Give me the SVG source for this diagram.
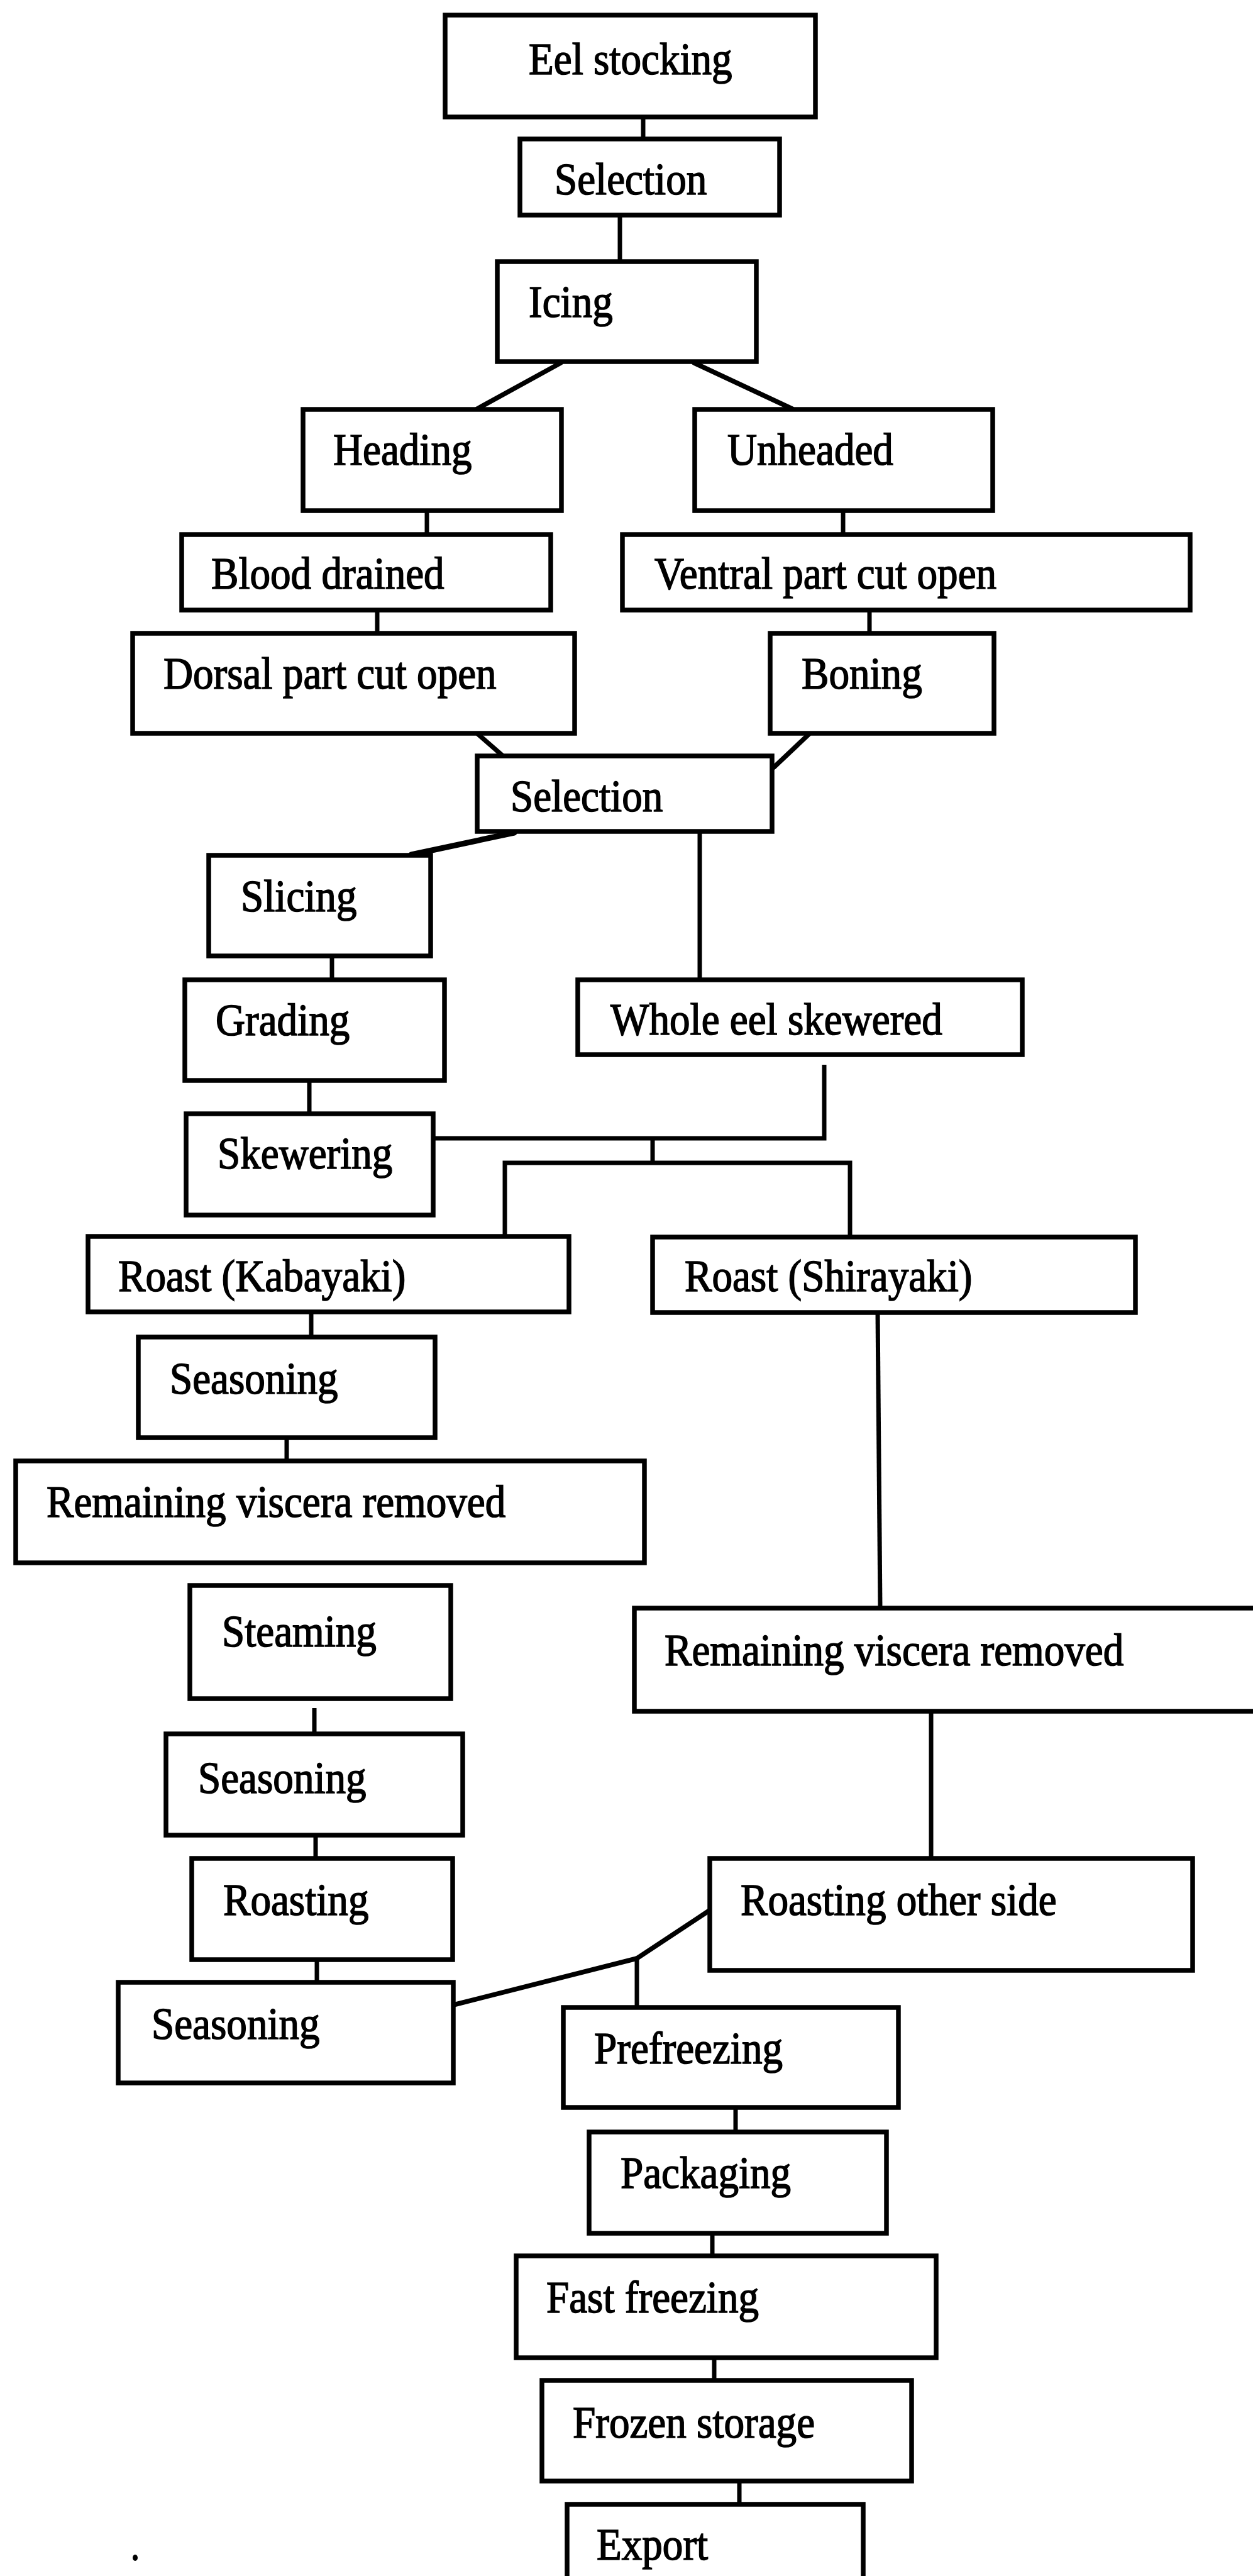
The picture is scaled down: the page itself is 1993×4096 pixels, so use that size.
<svg xmlns="http://www.w3.org/2000/svg" width="1993" height="4096" viewBox="0 0 1993 4096">
  <style>
    .box { fill: #ffffff; stroke: #000000; stroke-width: 7.5; }
    .lbl { font-family: "Liberation Serif", "Times New Roman", serif; font-size: 71px; fill: #000000; stroke: #000000; stroke-width: 1.6; }
    .link { fill: none; stroke: #000000; stroke-width: 7; stroke-linecap: butt; stroke-linejoin: miter; }
    .slant { fill: none; stroke: #000000; stroke-width: 7.5; stroke-linecap: round; }
  </style>
  <rect x="0" y="0" width="1993" height="4096" fill="#ffffff"/>

  <!-- connectors -->
  <g id="connectors">
    <line class="link" x1="1023" y1="186" x2="1023" y2="222"/>
    <line class="link" x1="986" y1="342" x2="986" y2="417"/>
    <line class="slant" x1="892" y1="577" x2="759" y2="650"/>
    <line class="slant" x1="1104" y1="577" x2="1260" y2="650"/>
    <line class="link" x1="679" y1="812" x2="679" y2="850"/>
    <line class="link" x1="1341" y1="812" x2="1341" y2="850"/>
    <line class="link" x1="600" y1="970" x2="600" y2="1007"/>
    <line class="link" x1="1383" y1="970" x2="1383" y2="1007"/>
    <line class="slant" x1="761" y1="1168" x2="800" y2="1202"/>
    <line class="slant" x1="1286" y1="1168" x2="1231" y2="1220"/>
    <line class="slant" x1="818" y1="1324" x2="654" y2="1359" style="stroke-width:9"/>
    <line class="link" x1="1113" y1="1322" x2="1113" y2="1558"/>
    <line class="link" x1="528" y1="1520" x2="528" y2="1558"/>
    <line class="link" x1="492" y1="1718" x2="492" y2="1771"/>
    <path class="link" d="M1311,1693 V1810 H689"/>
    <line class="link" x1="1038" y1="1810" x2="1038" y2="1849"/>
    <path class="link" d="M803,1966 V1849 H1352 V1967"/>
    <line class="link" x1="495" y1="2086" x2="495" y2="2126"/>
    <line class="link" x1="456" y1="2286" x2="456" y2="2323"/>
    <line class="link" x1="500" y1="2716" x2="500" y2="2757"/>
    <line class="link" x1="502" y1="2918" x2="502" y2="2955"/>
    <line class="link" x1="504" y1="3116" x2="504" y2="3152"/>
    <line class="link" x1="1396" y1="2087" x2="1400" y2="2557"/>
    <line class="link" x1="1481" y1="2721" x2="1481" y2="2955"/>
    <line class="slant" x1="1128" y1="3038" x2="1013" y2="3114"/>
    <line class="slant" x1="1013" y1="3114" x2="721" y2="3188"/>
    <line class="link" x1="1013" y1="3114" x2="1013" y2="3192"/>
    <line class="link" x1="1170" y1="3351" x2="1170" y2="3390"/>
    <line class="link" x1="1133" y1="3551" x2="1133" y2="3587"/>
    <line class="link" x1="1136" y1="3749" x2="1136" y2="3785"/>
    <line class="link" x1="1176" y1="3945" x2="1176" y2="3982"/>
  </g>

  <!-- process steps -->
  <g id="eel-stocking"><rect class="box" x="708" y="24" width="589" height="162"/><text class="lbl" transform="translate(841 118) scale(0.917 1)">Eel stocking</text></g>
  <g id="selection-1"><rect class="box" x="827" y="221" width="413" height="121"/><text class="lbl" transform="translate(882 309) scale(0.917 1)">Selection</text></g>
  <g id="icing"><rect class="box" x="791" y="416" width="412" height="159"/><text class="lbl" transform="translate(841 504) scale(0.917 1)">Icing</text></g>
  <g id="heading"><rect class="box" x="482" y="651" width="411" height="161"/><text class="lbl" transform="translate(530 739) scale(0.917 1)">Heading</text></g>
  <g id="unheaded"><rect class="box" x="1105" y="651" width="474" height="161"/><text class="lbl" transform="translate(1157 739) scale(0.917 1)">Unheaded</text></g>
  <g id="blood-drained"><rect class="box" x="289" y="850" width="587" height="120"/><text class="lbl" transform="translate(336 936) scale(0.917 1)">Blood drained</text></g>
  <g id="ventral-cut"><rect class="box" x="990" y="850" width="903" height="120"/><text class="lbl" transform="translate(1041 936) scale(0.917 1)">Ventral part cut open</text></g>
  <g id="dorsal-cut"><rect class="box" x="211" y="1007" width="703" height="159"/><text class="lbl" transform="translate(260 1095) scale(0.917 1)">Dorsal part cut open</text></g>
  <g id="boning"><rect class="box" x="1225" y="1007" width="356" height="159"/><text class="lbl" transform="translate(1275 1095) scale(0.917 1)">Boning</text></g>
  <g id="selection-2"><rect class="box" x="759" y="1202" width="469" height="120"/><text class="lbl" transform="translate(812 1290) scale(0.917 1)">Selection</text></g>
  <g id="slicing"><rect class="box" x="332" y="1360" width="353" height="160"/><text class="lbl" transform="translate(383 1449) scale(0.917 1)">Slicing</text></g>
  <g id="whole-eel-skewered"><rect class="box" x="919" y="1558" width="707" height="119"/><text class="lbl" transform="translate(971 1645) scale(0.917 1)">Whole eel skewered</text></g>
  <g id="grading"><rect class="box" x="294" y="1558" width="413" height="160"/><text class="lbl" transform="translate(343 1646) scale(0.917 1)">Grading</text></g>
  <g id="skewering"><rect class="box" x="296" y="1771" width="393" height="161"/><text class="lbl" transform="translate(346 1858) scale(0.917 1)">Skewering</text></g>
  <g id="roast-kabayaki"><rect class="box" x="140" y="1966" width="765" height="120"/><text class="lbl" transform="translate(188 2053) scale(0.917 1)">Roast (Kabayaki)</text></g>
  <g id="roast-shirayaki"><rect class="box" x="1038" y="1967" width="768" height="120"/><text class="lbl" transform="translate(1089 2053) scale(0.917 1)">Roast (Shirayaki)</text></g>
  <g id="seasoning-1"><rect class="box" x="220" y="2126" width="472" height="160"/><text class="lbl" transform="translate(270 2216) scale(0.917 1)">Seasoning</text></g>
  <g id="viscera-removed-left"><rect class="box" x="25" y="2323" width="1000" height="162"/><text class="lbl" transform="translate(74 2412) scale(0.917 1)">Remaining viscera removed</text></g>
  <g id="steaming"><rect class="box" x="302" y="2521" width="415" height="180"/><text class="lbl" transform="translate(353 2618) scale(0.917 1)">Steaming</text></g>
  <g id="seasoning-2"><rect class="box" x="264" y="2757" width="472" height="161"/><text class="lbl" transform="translate(315 2851) scale(0.917 1)">Seasoning</text></g>
  <g id="roasting"><rect class="box" x="305" y="2955" width="415" height="161"/><text class="lbl" transform="translate(355 3045) scale(0.917 1)">Roasting</text></g>
  <g id="seasoning-3"><rect class="box" x="188" y="3152" width="533" height="160"/><text class="lbl" transform="translate(241 3242) scale(0.917 1)">Seasoning</text></g>
  <g id="viscera-removed-right"><rect class="box" x="1009" y="2557" width="1010" height="164"/><text class="lbl" transform="translate(1057 2648) scale(0.917 1)">Remaining viscera removed</text></g>
  <g id="roasting-other-side"><rect class="box" x="1129" y="2955" width="768" height="178"/><text class="lbl" transform="translate(1178 3045) scale(0.917 1)">Roasting other side</text></g>
  <g id="prefreezing"><rect class="box" x="896" y="3192" width="533" height="159"/><text class="lbl" transform="translate(945 3281) scale(0.917 1)">Prefreezing</text></g>
  <g id="packaging"><rect class="box" x="937" y="3390" width="473" height="161"/><text class="lbl" transform="translate(987 3479) scale(0.917 1)">Packaging</text></g>
  <g id="fast-freezing"><rect class="box" x="821" y="3587" width="668" height="162"/><text class="lbl" transform="translate(869 3677) scale(0.917 1)">Fast freezing</text></g>
  <g id="frozen-storage"><rect class="box" x="862" y="3785" width="588" height="160"/><text class="lbl" transform="translate(911 3876) scale(0.917 1)">Frozen storage</text></g>
  <g id="export"><rect class="box" x="902" y="3982" width="471" height="150"/><text class="lbl" transform="translate(949 4070) scale(0.917 1)">Export</text></g>

  <!-- stray print mark near the lower left -->
  <ellipse cx="215" cy="4067" rx="4" ry="5" fill="#000000"/>
</svg>
